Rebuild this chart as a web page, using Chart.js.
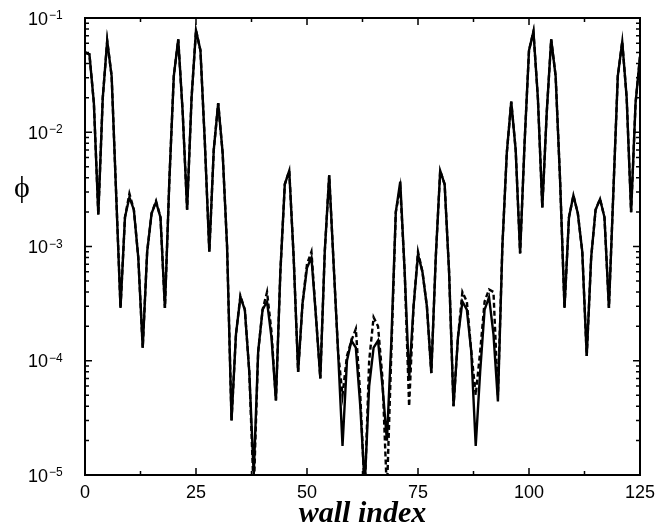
<!DOCTYPE html>
<html>
<head>
<meta charset="utf-8">
<script src="https://cdn.jsdelivr.net/npm/chart.js@4.4.0/dist/chart.umd.min.js"></script>
<style>
  html, body { margin: 0; padding: 0; background: #fff; }
</style>
</head>
<body>
<canvas id="cuadroGrafico" width="669" height="529"></canvas>
<script>

// indice de pared 0..125
var wallIndex = Array.from({length: 126}, function (v, i) { return i; });

var phiSolid = [
  0.050, 0.048, 0.018, 0.0019, 0.020, 0.063, 0.031, 0.0030, 0.00029, 0.0018,
  0.0027, 0.0021, 0.0008, 0.00013, 0.0009, 0.00195, 0.00245, 0.0018, 0.00029, 0.0038,
  0.031, 0.065, 0.015, 0.0021, 0.020, 0.078, 0.052, 0.008, 0.0009, 0.007,
  0.018, 0.0066, 0.0010, 0.00003, 0.00017, 0.00036, 0.00028, 0.00008, 0.000010, 0.00012,
  0.00028, 0.00033, 0.00016, 0.000045, 0.0006, 0.0035, 0.0046, 0.0008, 0.00008, 0.00032,
  0.00065, 0.0008, 0.00025, 0.00007, 0.0009, 0.0042, 0.0007, 0.00012, 0.000018, 0.00010,
  0.00015, 0.00013, 0.00004, 0.000008, 0.00006, 0.00013, 0.00015, 0.00006, 0.00002, 0.00015,
  0.0020, 0.0037, 0.0006, 0.00007, 0.0003, 0.00085, 0.0006, 0.0003, 0.000078, 0.0008,
  0.0046, 0.0035, 0.0006, 0.00004, 0.00016, 0.00033, 0.00028, 0.00012, 0.000018, 0.00008,
  0.00028, 0.00036, 0.00017, 0.000044, 0.0010, 0.0066, 0.0185, 0.007, 0.00087, 0.008,
  0.052, 0.076, 0.020, 0.0022, 0.015, 0.065, 0.031, 0.0038, 0.00029, 0.0018,
  0.0028, 0.00195, 0.0009, 0.00011, 0.0008, 0.0021, 0.0026, 0.0018, 0.00029, 0.0030,
  0.031, 0.062, 0.020, 0.0020, 0.018, 0.046
];

var phiDashed = [
  0.050, 0.048, 0.018, 0.0019, 0.020, 0.063, 0.031, 0.0030, 0.00029, 0.0018,
  0.0029, 0.0021, 0.0008, 0.00013, 0.0009, 0.00195, 0.0025, 0.0018, 0.00029, 0.0038,
  0.031, 0.065, 0.015, 0.0021, 0.020, 0.078, 0.052, 0.008, 0.0009, 0.007,
  0.018, 0.0066, 0.0010, 0.00003, 0.00017, 0.00037, 0.00028, 0.00008, 0.000007, 0.00012,
  0.00028, 0.0004, 0.00018, 0.000045, 0.0006, 0.0035, 0.0046, 0.0008, 0.00008, 0.00032,
  0.0007, 0.0009, 0.00025, 0.00007, 0.0009, 0.0042, 0.0007, 0.00012, 0.00005, 0.00011,
  0.00015, 0.00019, 0.00005, 0.000007, 0.00010, 0.00024, 0.00020, 0.00007, 0.000007, 0.00012,
  0.0020, 0.0033, 0.0006, 0.00004, 0.0003, 0.0009, 0.0006, 0.0003, 0.000078, 0.0008,
  0.0046, 0.0035, 0.0006, 0.00004, 0.00016, 0.0004, 0.00033, 0.00012, 0.00005, 0.00012,
  0.00033, 0.00042, 0.0004, 0.00005, 0.0010, 0.0066, 0.0185, 0.007, 0.00087, 0.008,
  0.052, 0.076, 0.020, 0.0022, 0.015, 0.065, 0.031, 0.0038, 0.00029, 0.0018,
  0.0028, 0.00195, 0.0009, 0.00011, 0.0008, 0.0021, 0.0026, 0.0018, 0.00029, 0.0030,
  0.031, 0.062, 0.020, 0.0020, 0.018, 0.046
];

var xTickLabels = [0, 25, 50, 75, 100, 125];
var yDecades = [1e-5, 1e-4, 1e-3, 1e-2, 1e-1];
var yExponents = ['\u22125', '\u22124', '\u22123', '\u22122', '\u22121'];


function armarPuntos (serie) {
  return wallIndex.map(function (w, i) { return {x: w, y: serie[i]}; });
}


// marco, ticks hacia adentro y etiquetas 10^n
var marcoEjes = {
  id: 'marcoEjes',
  afterDraw: function (chart) {
    var ctx = chart.ctx;
    var area = chart.chartArea;
    var sx = chart.scales.x;
    var sy = chart.scales.y;

    ctx.save();
    ctx.strokeStyle = '#000';
    ctx.lineWidth = 2;
    ctx.strokeRect(area.left, area.top, area.right - area.left, area.bottom - area.top);

    ctx.lineWidth = 1.5;
    ctx.beginPath();
    sx.ticks.forEach(function (t) {
      var px = sx.getPixelForValue(t.value);
      var largo = xTickLabels.indexOf(t.value) >= 0 ? 7 : 4;
      ctx.moveTo(px, area.bottom);
      ctx.lineTo(px, area.bottom - largo);
      ctx.moveTo(px, area.top);
      ctx.lineTo(px, area.top + largo);
    });
    yDecades.forEach(function (d) {
      for (var k = 1; k <= 9; k++) {
        var v = d * k;
        if (v > sy.max * 1.0001) break;
        var py = sy.getPixelForValue(v);
        var largo = k === 1 ? 7 : 4;
        ctx.moveTo(area.left, py);
        ctx.lineTo(area.left + largo, py);
        ctx.moveTo(area.right, py);
        ctx.lineTo(area.right - largo, py);
      }
    });
    ctx.stroke();

    ctx.fillStyle = '#000';
    yDecades.forEach(function (d, i) {
      var py = sy.getPixelForValue(d);
      ctx.font = '18px "Liberation Sans", Arial, sans-serif';
      ctx.textAlign = 'right';
      ctx.textBaseline = 'alphabetic';
      ctx.fillText('10', area.left - 37, py + 6.5);
      ctx.font = '12px "Liberation Sans", Arial, sans-serif';
      ctx.textAlign = 'left';
      ctx.fillText(yExponents[i], area.left - 36, py + 1);
    });

    ctx.font = '30px "Liberation Serif", serif';
    ctx.textAlign = 'center';
    ctx.textBaseline = 'middle';
    var pyPhi = (sy.getPixelForValue(1e-2) + sy.getPixelForValue(1e-3)) / 2;
    ctx.fillText('\u03D5', area.left - 63, pyPhi);
    ctx.restore();
  }
};


function generarGrafico () {
  var cuadroGrafico = document.getElementById('cuadroGrafico');

  var datosImprimir = {
    datasets: [{
      label: 'solid',
      data: armarPuntos(phiSolid),
      borderColor: '#000',
      borderWidth: 2.4,
      pointRadius: 0,
      tension: 0,
      fill: false
    }, {
      label: 'dashed',
      data: armarPuntos(phiDashed),
      borderColor: '#000',
      borderWidth: 2.4,
      borderDash: [5, 3],
      pointRadius: 0,
      tension: 0,
      fill: false
    }]
  };

  var chartOptions = {
    responsive: false,
    animation: false,
    devicePixelRatio: 1,
    layout: { padding: { top: 18, right: 29, left: 0, bottom: 0 } },
    plugins: {
      legend: { display: false },
      tooltip: { enabled: false }
    },
    scales: {
      x: {
        type: 'linear',
        min: 0,
        max: 125,
        grid: { display: false, drawTicks: false },
        border: { display: false },
        ticks: {
          stepSize: 12.5,
          autoSkip: false,
          maxRotation: 0,
          padding: 7,
          color: '#000',
          font: { family: '"Liberation Sans", Arial, sans-serif', size: 18 },
          callback: function (v) { return xTickLabels.indexOf(v) >= 0 ? String(v) : ''; }
        },
        title: {
          display: true,
          text: 'wall index',
          color: '#000',
          padding: 0,
          font: { family: '"Liberation Serif", serif', size: 30, style: 'italic', weight: 'bold', lineHeight: 1 }
        },
        afterFit: function (scale) { scale.height = 54; }
      },
      y: {
        type: 'logarithmic',
        min: 1e-5,
        max: 1e-1,
        grid: { display: false, drawTicks: false },
        border: { display: false },
        ticks: { display: false },
        afterFit: function (scale) { scale.width = 85; }
      }
    }
  };

  new Chart(cuadroGrafico, {
    type: 'line',
    data: datosImprimir,
    options: chartOptions,
    plugins: [marcoEjes]
  });
}

generarGrafico();
</script>
</body>
</html>
